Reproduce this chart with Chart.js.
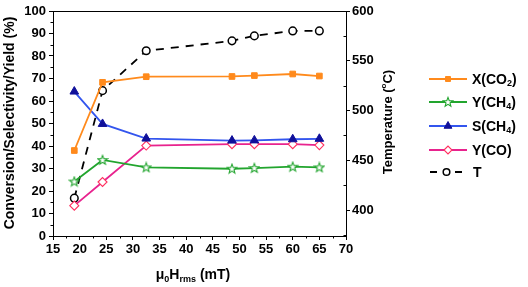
<!DOCTYPE html>
<html><head><meta charset="utf-8">
<script src="https://cdn.jsdelivr.net/npm/chart.js@4.4.0/dist/chart.umd.min.js"></script>
<style>html,body{margin:0;padding:0;background:#fff}#wrap{width:528px;height:287px;position:relative}</style>
</head><body><div id="wrap"><canvas id="c" width="528" height="287"></canvas></div>
<script>
// ---- data ----
const fieldMT = [19, 24.3, 32.5, 48.6, 52.8, 60, 65];
const xCO2   = [38, 68.3, 70.8, 70.9, 71.3, 72, 71.1];
const yCH4   = [24.2, 33.8, 30.5, 29.9, 30.2, 30.8, 30.5];
const sCH4   = [64.2, 49.8, 43.3, 42.4, 42.5, 43.0, 43.2];
const yCO    = [13.5, 24, 40.2, 40.8, 40.8, 40.8, 40.4];
const tempC  = [412, 520, 560, 570, 575, 580, 580];
const xTicks = [15, 20, 25, 30, 35, 40, 45, 50, 55, 60, 65, 70];
const xMinor = [17.5, 22.5, 27.5, 32.5, 37.5, 42.5, 47.5, 52.5, 57.5, 62.5, 67.5];
const leftTicks = [0, 10, 20, 30, 40, 50, 60, 70, 80, 90, 100];
const leftMinor = [5, 15, 25, 35, 45, 55, 65, 75, 85, 95];
const rightTicks = [400, 450, 500, 550, 600];
const rightMinor = [375, 425, 475, 525, 575];
const legendItems = [
  {main: 'X(CO', sub: '2', tail: ')'},
  {main: 'Y(CH', sub: '4', tail: ')'},
  {main: 'S(CH', sub: '4', tail: ')'},
  {main: 'Y(CO)', sub: '', tail: ''},
  {main: 'T', sub: '', tail: ''}
];

const C_OR = '#FF8A1C', C_GR = '#22A52E', C_BL = '#3355EE', C_NV = '#10109A', C_PK = '#E8238E', C_PKM = '#FF3060';
const FONT = 'Liberation Sans, Arial, sans-serif';

function starCanvas(){
  const cv = document.createElement('canvas'); cv.width = 12; cv.height = 12;
  const g = cv.getContext('2d');
  g.beginPath();
  for (let i = 0; i < 10; i++) {
    const r = i % 2 ? 2.1 : 4.9, a = -Math.PI/2 + i*Math.PI/5;
    const px = 6 + r*Math.cos(a), py = 6.3 + r*Math.sin(a);
    i ? g.lineTo(px, py) : g.moveTo(px, py);
  }
  g.closePath(); g.fillStyle = '#fff'; g.fill();
  g.strokeStyle = C_GR; g.lineWidth = 1.1; g.stroke();
  return cv;
}
const STAR = starCanvas();

const pts = arr => arr.map((v, i) => ({x: fieldMT[i], y: v}));
const tickFont = {family: FONT, size: 13, weight: 'bold'};

const extras = {
  id: 'extras',
  afterDraw(chart) {
    const g = chart.ctx, a = chart.chartArea;
    const sx = chart.scales.x, sy = chart.scales.y, sy2 = chart.scales.y2;
    g.save();
    g.strokeStyle = '#000'; g.lineWidth = 1;
    // top border
    g.beginPath(); g.moveTo(a.left, a.top + 0.5); g.lineTo(a.right, a.top + 0.5); g.stroke();
    // minor ticks
    g.beginPath();
    xMinor.forEach(v => { const p = Math.round(sx.getPixelForValue(v)) + 0.5; g.moveTo(p, a.bottom); g.lineTo(p, a.bottom + 2.5); });
    leftMinor.forEach(v => { const p = Math.round(sy.getPixelForValue(v)) + 0.5; g.moveTo(a.left - 2.5, p); g.lineTo(a.left, p); });
    rightMinor.forEach(v => { if (v < sy2.min) return; const p = Math.round(sy2.getPixelForValue(v)) + 0.5; g.moveTo(a.right - 2.5, p); g.lineTo(a.right, p); });
    g.stroke();

    g.fillStyle = '#000';
    // left title
    g.save(); g.translate(10, 123); g.rotate(-Math.PI/2);
    g.font = 'bold 14px ' + FONT; g.textAlign = 'center'; g.textBaseline = 'middle';
    g.fillText('Conversion/Selectivity/Yield (%)', 0, 0); g.restore();
    // right title
    g.save(); g.translate(388, 122); g.rotate(-Math.PI/2);
    g.textBaseline = 'middle';
    const f1 = 'bold 13px ' + FONT, f2 = 'bold 8px ' + FONT;
    const p1 = 'Temperature (', p2 = 'o', p3 = 'C)';
    g.font = f1; const w1 = g.measureText(p1).width, w3 = g.measureText(p3).width;
    g.font = f2; const w2 = g.measureText(p2).width;
    let x0 = -(w1 + w2 + w3) / 2;
    g.textAlign = 'left';
    g.font = f1; g.fillText(p1, x0, 0); x0 += w1;
    g.font = f2; g.fillText(p2, x0, -4); x0 += w2;
    g.font = f1; g.fillText(p3, x0, 0);
    g.restore();
    // x title: μ0Hrms (mT)
    {
      const big = 'bold 14px ' + FONT, sm = 'bold 9px ' + FONT;
      const parts = [['μ', big, 0], ['0', sm, 3], ['H', big, 0], ['rms', sm, 3], [' (mT)', big, 0]];
      let tot = 0; parts.forEach(p => { g.font = p[1]; p.push(g.measureText(p[0]).width); tot += p[3]; });
      let x0 = 193 - tot / 2; g.textAlign = 'left'; g.textBaseline = 'alphabetic';
      parts.forEach(p => { g.font = p[1]; g.fillText(p[0], x0, 279 + p[2]); x0 += p[3]; });
    }
    // legend
    const rows = [79, 102, 126, 150, 172];
    const ds = chart.data.datasets;
    rows.forEach((y, i) => {
      const d = ds[i];
      g.save();
      g.strokeStyle = d.borderColor; g.lineWidth = 2;
      if (i === 4) {
        g.beginPath(); g.moveTo(430, y); g.lineTo(437, y); g.moveTo(455, y); g.lineTo(462, y); g.stroke();
      } else {
        g.beginPath(); g.moveTo(429, y); g.lineTo(467, y); g.stroke();
      }
      const mx = i === 4 ? 446.5 : 448;
      const r = d.pointRadius - 0.5;
      g.fillStyle = d.pointBackgroundColor; g.strokeStyle = d.pointBorderColor; g.lineWidth = d.pointBorderWidth;
      Chart.helpers.drawPoint(g, {pointStyle: d.pointStyle, radius: r, rotation: 0, borderWidth: d.pointBorderWidth}, mx, y);
      g.restore();
      const it = legendItems[i];
      g.fillStyle = '#000'; g.textBaseline = 'middle'; g.textAlign = 'left';
      let tx = i === 4 ? 473 : 472;
      g.font = 'bold 14px ' + FONT; g.fillText(it.main, tx, y + 1); tx += g.measureText(it.main).width;
      if (it.sub) {
        g.font = 'bold 9px ' + FONT; g.fillText(it.sub, tx, y + 5); tx += g.measureText(it.sub).width;
        g.font = 'bold 14px ' + FONT; g.fillText(it.tail, tx, y + 1);
      }
    });
    g.restore();
  }
};

new Chart(document.getElementById('c'), {
  type: 'line',
  data: {
    datasets: [
      {label: 'X(CO2)', data: pts(xCO2), yAxisID: 'y', borderColor: C_OR, backgroundColor: C_OR,
       pointStyle: 'rect', pointRadius: 4, pointBackgroundColor: C_OR, pointBorderColor: C_OR, pointBorderWidth: 1, borderWidth: 1.8},
      {label: 'Y(CH4)', data: pts(yCH4), yAxisID: 'y', borderColor: C_GR, backgroundColor: C_GR,
       pointStyle: STAR, pointRadius: 5, pointBackgroundColor: '#fff', pointBorderColor: C_GR, pointBorderWidth: 1.1, borderWidth: 1.8},
      {label: 'S(CH4)', data: pts(sCH4), yAxisID: 'y', borderColor: C_BL, backgroundColor: C_NV,
       pointStyle: 'triangle', pointRadius: 5, pointBackgroundColor: C_NV, pointBorderColor: C_NV, pointBorderWidth: 1, borderWidth: 1.8},
      {label: 'Y(CO)', data: pts(yCO), yAxisID: 'y', borderColor: C_PK, backgroundColor: '#fff',
       pointStyle: 'rectRot', pointRadius: 4.5, pointBackgroundColor: '#fff', pointBorderColor: C_PKM, pointBorderWidth: 1.1, borderWidth: 1.8},
      {label: 'T', data: pts(tempC), yAxisID: 'y2', borderColor: '#000', backgroundColor: '#fff', borderDash: [8, 7],
       pointStyle: 'circle', pointRadius: 3.8, pointBackgroundColor: '#fff', pointBorderColor: '#000', pointBorderWidth: 1.5, borderWidth: 1.8}
    ]
  },
  options: {
    responsive: false, animation: false, devicePixelRatio: 1,
    layout: {padding: {top: 11, left: 0, right: 0, bottom: 0}},
    plugins: {legend: {display: false}, tooltip: {enabled: false}},
    elements: {line: {tension: 0}},
    scales: {
      x: {type: 'linear', min: 15, max: 70,
        afterBuildTicks: s => { s.ticks = xTicks.map(v => ({value: v})); },
        afterFit: s => { s.height = 51; },
        grid: {drawOnChartArea: false, drawTicks: true, tickLength: 4, color: '#000'},
        border: {color: '#000', width: 1},
        ticks: {font: tickFont, color: '#000', padding: 2, maxRotation: 0, autoSkip: false}},
      y: {type: 'linear', position: 'left', min: 0, max: 100,
        afterBuildTicks: s => { s.ticks = leftTicks.map(v => ({value: v})); },
        afterFit: s => { s.width = 53; },
        grid: {drawOnChartArea: false, drawTicks: true, tickLength: 4, color: '#000'},
        border: {color: '#000', width: 1},
        ticks: {font: tickFont, color: '#000', padding: 3, autoSkip: false}},
      y2: {type: 'linear', position: 'right', min: 374, max: 600,
        afterBuildTicks: s => { s.ticks = rightTicks.map(v => ({value: v})); },
        afterFit: s => { s.width = 182; },
        grid: {drawOnChartArea: false, drawTicks: true, tickLength: 4, color: '#000'},
        border: {color: '#000', width: 1},
        ticks: {font: tickFont, color: '#000', padding: 2, autoSkip: false}}
    }
  },
  plugins: [extras]
});
</script></body></html>
